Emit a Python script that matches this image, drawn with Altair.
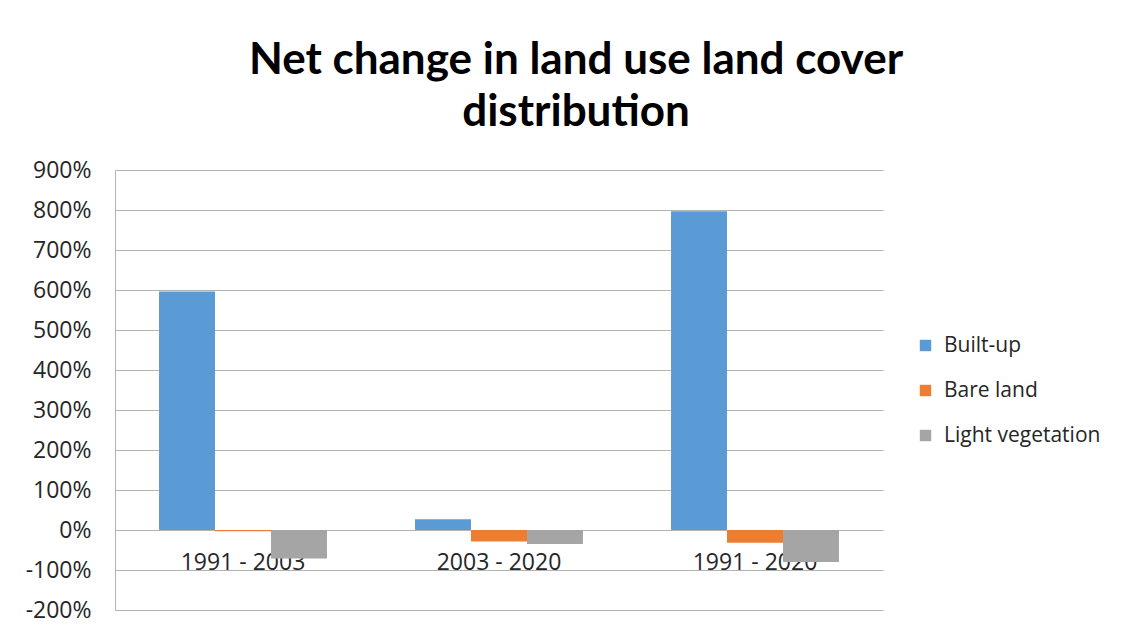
import altair as alt
import pandas as pd

periods = ["1991 - 2003", "2003 - 2020", "1991 - 2020"]
classes = ["Built-up", "Bare land", "Light vegetation"]
built_up = [596, 27, 797]
bare_land = [-3, -29, -32]
light_veg = [-71, -35, -80]
colors = ["#5B9BD5", "#ED7D31", "#A5A5A5"]
y_ticks = list(range(-200, 1000, 100))

rows = []
for i, p in enumerate(periods):
    for c, vals in zip(classes, [built_up, bare_land, light_veg]):
        rows.append({"period": p, "cls": c, "value": vals[i]})
df = pd.DataFrame(rows)

FONT = "Open Sans"

chart = alt.Chart(df).mark_bar().encode(
    x=alt.X("period:N", sort=periods, title=None,
            scale=alt.Scale(paddingInner=0.344, paddingOuter=0.172),
            axis=alt.Axis(offset=-80, domain=False, ticks=False, labelAngle=0,
                          labelPadding=21, labelFontSize=23, labelFont=FONT,
                          labelColor="#262626", grid=False)),
    xOffset=alt.XOffset("cls:N", sort=classes,
                        scale=alt.Scale(paddingInner=0, paddingOuter=0)),
    y=alt.Y("value:Q", title=None,
            scale=alt.Scale(domain=[-200, 900], nice=False),
            axis=alt.Axis(values=y_ticks, labelExpr="datum.value + '%'",
                          labelFontSize=23, labelFont=FONT, labelColor="#262626",
                          labelPadding=24, ticks=False, domain=True,
                          domainColor="#b3b3b3", gridColor="#b3b3b3",
                          grid=True)),
    color=alt.Color("cls:N", sort=classes, title=None,
                    scale=alt.Scale(domain=classes, range=colors),
                    legend=alt.Legend(orient="none", legendX=800, legendY=165,
                                      symbolType="square", symbolSize=130,
                                      symbolStrokeWidth=0,
                                      labelFontSize=21, labelFont=FONT,
                                      labelColor="#262626", rowPadding=23,
                                      labelOffset=8, labelLimit=300)),
).properties(
    width=768,
    height=440,
    title=alt.TitleParams(
        ["Net change in land use land cover", "distribution"],
        font="Lato", fontSize=44, fontWeight="bold", color="#000000",
        anchor="middle", dx=77, offset=24, lineHeight=52,
    ),
    autosize=alt.AutoSizeParams(type="none"),
    padding={"left": 107, "top": 162, "right": 248, "bottom": 15},
).configure_view(stroke=None)

chart.save("out.html", embed_options={"renderer": "svg", "actions": False})
